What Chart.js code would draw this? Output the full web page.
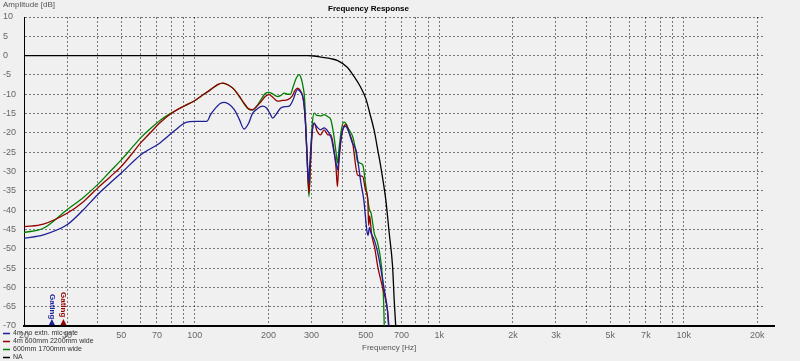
<!DOCTYPE html>
<html>
<head>
<meta charset="utf-8">
<title>Frequency Response</title>
<script src="https://cdn.jsdelivr.net/npm/chart.js@4.4.0/dist/chart.umd.min.js"></script>
<style>
  html, body { margin: 0; padding: 0; background: #f0f0f0; }
  canvas { display: block; }
</style>
</head>
<body>
<canvas id="frChart" width="800" height="361"></canvas>
<script>
// Frequency response, values (Hz / dB)

const blueFreq = [20, 24, 30, 35, 40, 45, 50, 60, 72, 82, 92, 100, 112, 116, 120, 127, 132, 138, 145, 152, 159, 166, 172, 180, 189, 196, 203, 208, 215, 224, 235, 243, 252, 263, 270, 276, 280, 284, 288, 292, 296, 301, 307, 316, 327, 338, 350, 362, 372, 380, 384, 389, 397, 406, 414, 425, 440, 456, 466, 478, 491, 501, 506, 511, 518, 526, 542, 560, 576, 595, 614, 620, 632];
const blueDb = [-47.3, -46.4, -43.8, -39.9, -36.0, -33.0, -30.4, -25.7, -22.6, -19.6, -17.3, -17.0, -17.0, -15.3, -14.0, -12.4, -12.1, -12.6, -14.0, -16.5, -19.0, -17.5, -15.0, -13.8, -13.1, -13.5, -15.0, -16.2, -15.2, -13.6, -13.2, -13.1, -11.5, -8.8, -9.3, -10.5, -13.0, -18.3, -26.0, -33.0, -27.0, -20.5, -17.5, -18.5, -19.2, -18.7, -19.6, -21.5, -25.5, -28.5, -29.6, -26.0, -21.0, -18.6, -18.3, -19.5, -22.5, -24.4, -28.0, -33.0, -37.3, -43.0, -45.5, -46.5, -44.5, -46.0, -47.7, -51.0, -55.0, -60.5, -66.0, -69.7, -70.5];

const redFreq = [20, 24, 30, 35, 40, 45, 50, 55, 60, 65, 72, 80, 90, 99, 106, 116, 124, 130, 137, 145, 152, 159, 166, 172, 178, 186, 194, 201, 208, 218, 228, 240, 250, 257, 263, 269, 275, 280, 284, 288, 293, 297, 302, 308, 316, 327, 338, 350, 360, 370, 378, 383, 388, 398, 407, 414, 428, 442, 463, 486, 500, 510, 514, 519, 528, 545, 560, 585, 614, 624];
const redDb = [-44.3, -43.6, -40.8, -37.8, -34.3, -31.4, -28.7, -25.6, -22.6, -20.3, -17.4, -15.0, -13.1, -11.8, -10.5, -8.8, -7.5, -7.1, -7.6, -8.8, -10.5, -12.3, -13.8, -14.0, -13.3, -12.0, -10.6, -10.1, -10.7, -11.8, -11.6, -11.4, -10.5, -9.0, -8.4, -8.9, -10.1, -13.0, -18.3, -27.0, -35.6, -28.0, -20.0, -17.5, -19.5, -20.5, -19.2, -20.5, -20.5, -24.0, -29.0, -33.9, -28.0, -21.0, -18.3, -17.9, -20.0, -22.6, -30.9, -31.3, -35.0, -37.3, -44.0, -41.5, -46.0, -50.0, -54.6, -59.8, -66.0, -71.0];

const greenFreq = [20, 24, 30, 35, 40, 45, 50, 55, 60, 65, 72, 80, 90, 99, 106, 116, 124, 130, 137, 145, 152, 159, 166, 172, 178, 186, 194, 201, 208, 218, 226, 232, 240, 246, 252, 260, 267, 272, 277, 281, 285, 289, 293, 297, 302, 308, 316, 327, 338, 350, 360, 370, 378, 383, 389, 398, 407, 414, 428, 442, 455, 463, 486, 501, 518, 526, 542, 560, 585, 592, 596];
const greenDb = [-45.8, -44.7, -39.9, -36.7, -33.4, -30.0, -27.0, -24.0, -21.3, -19.2, -16.8, -14.9, -13.1, -11.8, -10.5, -8.8, -7.5, -7.1, -7.6, -8.8, -10.6, -12.5, -13.9, -14.1, -13.3, -11.5, -9.8, -9.5, -9.9, -10.6, -10.2, -9.7, -10.0, -10.0, -8.2, -5.8, -4.9, -5.8, -8.0, -11.0, -20.0, -29.0, -36.5, -28.0, -18.0, -14.9, -15.5, -15.6, -15.3, -15.8, -16.6, -20.5, -25.0, -27.8, -24.0, -19.0, -17.2, -17.5, -19.3, -20.9, -24.5, -27.4, -28.3, -33.9, -39.9, -40.8, -46.0, -48.6, -57.2, -64.0, -71.0];

const naFreq = [20, 290, 307, 330, 360, 384, 420, 448, 475, 501, 520, 542, 560, 576, 604, 624, 644, 654, 664];
const naDb = [0, 0, -0.1, -0.4, -0.8, -1.3, -3.0, -5.4, -8.0, -11.2, -15.0, -19.5, -24.4, -28.7, -37.3, -46.0, -54.6, -63.3, -70.5];

const seriesLabels = ["4m no extn. mic gate", "4m 600mm 2200mm wide", "600mm 1700mm wide", "NA"];
const seriesColors = ["#1e1e96", "#960000", "#008000", "#000000"];

// axis labels
const freqLabels = [20, 30, 50, 70, 100, 200, 300, 500, 700, 1000, 2000, 3000, 5000, 7000, 10000, 20000];
const xMin = 20;
const xMax = 21500;

// gating markers
const gatingFreq = [26, 29];
const gatingColors = ["#1e1e96", "#960000"];

function toPoints(freqs, dbs) {
  return freqs.map((f, i) => ({ x: f, y: dbs[i] }));
}

// grid at every 1..9 x 10^n
const gridFreqs = [];
[10, 100, 1000, 10000].forEach((decade) => {
  for (let k = 1; k <= 9; k++) {
    const f = decade * k;
    if (f >= xMin && f <= 20000) gridFreqs.push(f);
  }
});

const FONT = '"Liberation Sans", Arial, sans-serif';

const decorations = {
  id: "decorations",
  // legend goes down first so the tick labels sit on top of it
  beforeDraw(chart) {
    const ctx = chart.ctx;
    ctx.save();
    ctx.font = "7px " + FONT;
    ctx.textBaseline = "middle";
    chart.data.datasets.forEach((ds, i) => {
      const y = 333.5 + i * 8;
      ctx.strokeStyle = ds.borderColor;
      ctx.lineWidth = 1.5;
      ctx.beginPath();
      ctx.moveTo(3, y);
      ctx.lineTo(10, y);
      ctx.stroke();
      ctx.fillStyle = "#333";
      ctx.fillText(ds.label, 13, y);
    });
    ctx.restore();
  },
  afterDraw(chart) {
    const ctx = chart.ctx;
    const area = chart.chartArea;
    const xScale = chart.scales.x;
    ctx.save();

    // title
    ctx.fillStyle = "#000";
    ctx.font = "bold 8px " + FONT;
    ctx.textBaseline = "middle";
    ctx.textAlign = "left";
    ctx.fillText("Frequency Response", 328, 9);

    // axis titles
    ctx.fillStyle = "#555";
    ctx.font = "8px " + FONT;
    ctx.fillText("Amplitude [dB]", 3, 5);
    ctx.fillText("Frequency [Hz]", 362, 348);

    // x axis line runs a bit past the grid
    ctx.strokeStyle = "#000";
    ctx.lineWidth = 2;
    ctx.beginPath();
    ctx.moveTo(area.right, area.bottom);
    ctx.lineTo(area.right + 10, area.bottom);
    ctx.stroke();

    // gating markers
    gatingFreq.forEach((f, i) => {
      const x = xScale.getPixelForValue(f);
      const b = area.bottom - 1;
      ctx.fillStyle = gatingColors[i];
      ctx.beginPath();
      ctx.moveTo(x - 3, b);
      ctx.lineTo(x + 3, b);
      ctx.lineTo(x, b - 6);
      ctx.closePath();
      ctx.fill();
      ctx.save();
      ctx.translate(x, b - 31 - i * 2);
      ctx.rotate(Math.PI / 2);
      ctx.font = "bold 8px " + FONT;
      ctx.textAlign = "left";
      ctx.textBaseline = "middle";
      ctx.fillText("Gating", 0, 0);
      ctx.restore();
    });

    ctx.restore();
  },
};

const ctx = document.getElementById("frChart").getContext("2d");
new Chart(ctx, {
  type: "line",
  data: {
    datasets: [
      { label: seriesLabels[0], data: toPoints(blueFreq, blueDb), borderColor: seriesColors[0] },
      { label: seriesLabels[1], data: toPoints(redFreq, redDb), borderColor: seriesColors[1] },
      { label: seriesLabels[2], data: toPoints(greenFreq, greenDb), borderColor: seriesColors[2] },
      { label: seriesLabels[3], data: toPoints(naFreq, naDb), borderColor: seriesColors[3] },
    ],
  },
  options: {
    responsive: false,
    animation: false,
    events: [],
    layout: {
      padding: { left: 3, right: 35, top: 17, bottom: 0 },
    },
    elements: {
      point: { radius: 0 },
      line: { borderWidth: 1.3, cubicInterpolationMode: "monotone", fill: false },
    },
    plugins: {
      legend: { display: false },
      title: { display: false },
      tooltip: { enabled: false },
    },
    scales: {
      x: {
        type: "logarithmic",
        min: xMin,
        max: xMax,
        afterBuildTicks: (scale) => {
          scale.ticks = gridFreqs.map((v) => ({ value: v }));
        },
        afterFit: (scale) => {
          scale.height = 35;
        },
        ticks: {
          autoSkip: false,
          maxRotation: 0,
          padding: 4,
          color: "#666",
          font: { family: FONT, size: 9 },
          callback: (value) => {
            if (!freqLabels.includes(value)) return "";
            return value >= 1000 ? value / 1000 + "k" : String(value);
          },
        },
        grid: {
          color: "rgba(0, 0, 0, 0.5)",
          lineWidth: 1,
          drawTicks: false,
        },
        border: { display: true, color: "#000", width: 2, dash: [2, 2] },
      },
      y: {
        min: -70,
        max: 10,
        afterFit: (scale) => {
          scale.width = 21;
        },
        ticks: {
          stepSize: 5,
          crossAlign: "far",
          padding: 2,
          color: "#666",
          font: { family: FONT, size: 9 },
        },
        grid: {
          color: "rgba(0, 0, 0, 0.5)",
          lineWidth: 1,
          drawTicks: false,
        },
        border: { display: true, color: "#000", width: 1, dash: [2, 2] },
      },
    },
  },
  plugins: [decorations],
});
</script>
</body>
</html>
